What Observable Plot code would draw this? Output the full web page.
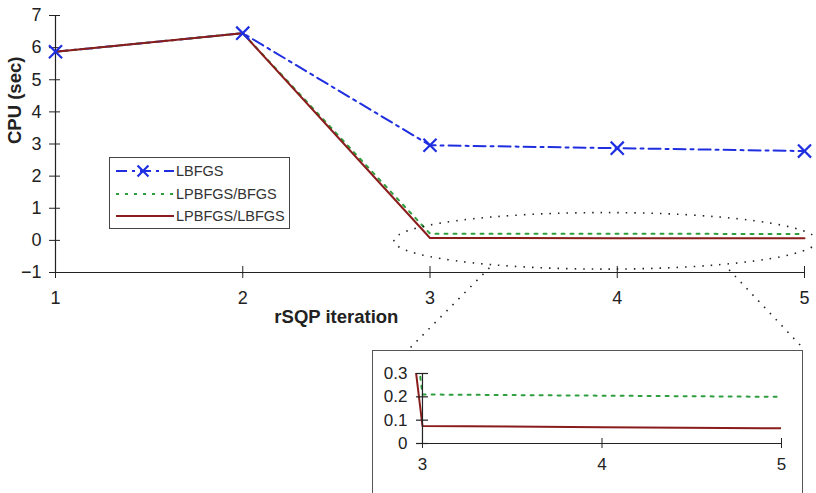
<!DOCTYPE html>
<html>
<head>
<meta charset="utf-8">
<script src="https://cdn.jsdelivr.net/npm/d3@7"></script>
<script src="https://cdn.jsdelivr.net/npm/@observablehq/plot@0.6"></script>
<style>
  html, body { margin: 0; padding: 0; background: #fff; }
  #wrap { position: relative; width: 816px; height: 493px; overflow: hidden; font-family: "Liberation Sans", Arial, sans-serif; }
  #main { position: absolute; left: 0; top: 0; }
  #inset { position: absolute; left: 372px; top: 350px; width: 429px; height: 170px; border: 1px solid #555; background: #fff; overflow: hidden; }
  #legend { position: absolute; left: 109px; top: 157px; width: 179px; height: 70px; border: 1px solid #444; background: #fff; font-size: 14.5px; color: #333; }
  #legend .row { position: absolute; left: 4px; height: 20px; display: flex; align-items: center; }
  #legend svg { display: block; }
  #overlay { position: absolute; left: 0; top: 0; pointer-events: none; }
</style>
</head>
<body>
<div id="wrap">
  <div id="main"></div>
  <div id="legend"></div>
  <div id="inset"></div>
  <svg id="overlay" width="816" height="493"></svg>
</div>
<script>
// ---- data ----
const iterations = [1, 2, 3, 4, 5];
const seriesNames = ["LBFGS", "LPBFGS/BFGS", "LPBFGS/LBFGS"];
const lbfgs = [5.87, 6.45, 2.96, 2.87, 2.78];
const lpbfgsBfgs = [5.87, 6.45, 0.21, 0.205, 0.2];
const lpbfgsLbfgs = [5.87, 6.45, 0.075, 0.07, 0.065];
const yTicks = [-1, 0, 1, 2, 3, 4, 5, 6, 7];
const xTicks = [1, 2, 3, 4, 5];
const insetYTicks = [0, 0.1, 0.2, 0.3];
const insetXTicks = [3, 4, 5];
const yLabel = "CPU (sec)";
const xLabel = "rSQP iteration";

const colors = { "LBFGS": "#1f2fe0", "LPBFGS/BFGS": "#2e9e3e", "LPBFGS/LBFGS": "#8b1c1c" };
const dashes = { "LBFGS": "12,5,3,5", "LPBFGS/BFGS": "3,6", "LPBFGS/LBFGS": null };

const rows = [];
seriesNames.forEach((s, k) => {
  const vals = [lbfgs, lpbfgsBfgs, lpbfgsLbfgs][k];
  iterations.forEach((x, i) => rows.push({ series: s, x, y: vals[i] }));
});
const bySeries = s => rows.filter(r => r.series === s);

const font = `"Liberation Sans", Arial, sans-serif`;

// ---- main plot ----
const main = Plot.plot({
  width: 816, height: 340,
  marginLeft: 55, marginRight: 12, marginTop: 15, marginBottom: 68,
  x: { domain: [1, 5], axis: null },
  y: { domain: [-1, 7], axis: null },
  style: { fontFamily: font, fontSize: "18px", color: "#222", background: "transparent", overflow: "visible" },
  marks: [
    Plot.ruleX([1], { y1: -1, y2: 7, stroke: "#222", strokeWidth: 1.2 }),
    Plot.ruleY([-1], { x1: 1, x2: 5, stroke: "#222", strokeWidth: 1.2 }),
    Plot.axisY({ ticks: yTicks, tickSize: 6, tickPadding: 8, tickFormat: "d", label: null, stroke: "#222", fill: "#222" }),
    Plot.axisY({ ticks: yTicks, tickSize: 5, text: null, label: null, dx: 5, stroke: "#222" }),
    Plot.axisX({ ticks: xTicks, tickSize: 6, tickPadding: 13, tickFormat: "d", label: null, stroke: "#222", fill: "#222" }),
    Plot.axisX({ ticks: xTicks, tickSize: 6, text: null, label: null, dy: -6, stroke: "#222" }),
    Plot.text([yLabel], { frameAnchor: "left", rotate: -90, dx: -40, fontWeight: "bold", fontSize: 18.5, fill: "#222" }),
    Plot.text([xLabel], { frameAnchor: "bottom", x: () => 2.5, dy: 50, fontWeight: "bold", fontSize: 18.5, fill: "#222" }),
    Plot.line(bySeries("LBFGS"), { x: "x", y: "y", stroke: colors["LBFGS"], strokeWidth: 2, strokeDasharray: dashes["LBFGS"] }),
    Plot.line(bySeries("LPBFGS/BFGS"), { x: "x", y: "y", stroke: colors["LPBFGS/BFGS"], strokeWidth: 2, strokeDasharray: dashes["LPBFGS/BFGS"] }),
    Plot.line(bySeries("LPBFGS/LBFGS"), { x: "x", y: "y", stroke: colors["LPBFGS/LBFGS"], strokeWidth: 2 }),
    Plot.dot(bySeries("LBFGS"), { x: "x", y: "y", symbol: "times", r: 6, stroke: colors["LBFGS"], strokeWidth: 2.2 })
  ]
});
document.getElementById("main").appendChild(main);

// ---- legend ----
const legend = d3.select("#legend");
seriesNames.forEach((s, i) => {
  const row = legend.append("div").attr("class", "row").style("top", (3 + i * 22.5) + "px");
  const svg = row.append("svg").attr("width", 62).attr("height", 20);
  svg.append("line").attr("x1", 2).attr("x2", 60).attr("y1", 10).attr("y2", 10)
    .attr("stroke", colors[s]).attr("stroke-width", 2)
    .attr("stroke-dasharray", s === "LBFGS" ? "11,5,3,5" : dashes[s]);
  if (s === "LBFGS") {
    svg.append("path").attr("d", d3.symbol(d3.symbolTimes, 80)()).attr("transform", "translate(29,10)")
      .attr("stroke", colors[s]).attr("stroke-width", 2.2).attr("fill", "none");
  }
  row.append("span").text(s);
});

// ---- inset ----
const inset = Plot.plot({
  width: 429, height: 143,
  marginLeft: 40, marginRight: 21, marginTop: 22, marginBottom: 51,
  x: { domain: [2.95, 5], axis: null },
  y: { domain: [0, 0.3], axis: null },
  style: { fontFamily: font, fontSize: "17px", color: "#222", background: "transparent", overflow: "visible" },
  marks: [
    Plot.line(bySeries("LPBFGS/BFGS"), { x: "x", y: "y", stroke: colors["LPBFGS/BFGS"], strokeWidth: 2, strokeDasharray: dashes["LPBFGS/BFGS"], clip: true }),
    Plot.line(bySeries("LPBFGS/LBFGS"), { x: "x", y: "y", stroke: colors["LPBFGS/LBFGS"], strokeWidth: 2, clip: true }),
    Plot.ruleX([3], { y1: 0, y2: 0.3, stroke: "#222", strokeWidth: 1.2 }),
    Plot.ruleY([0], { x1: 3, x2: 5, stroke: "#222", strokeWidth: 1.2 }),
    Plot.ruleY(insetYTicks, { y: d => d, x1: 3, x2: 3, insetLeft: -6, insetRight: -6, stroke: "#222", strokeWidth: 1.2 }),
    Plot.text(insetYTicks, { y: d => d, x: () => 3, text: d => d === 0 ? "0" : d.toFixed(1), textAnchor: "end", dx: -15, fill: "#222", fontSize: 17 }),
    Plot.axisX({ ticks: insetXTicks, tickSize: 5, tickPadding: 9, tickFormat: "d", label: null, stroke: "#222", fill: "#222" }),
    Plot.axisX({ ticks: insetXTicks, tickSize: 5, text: null, label: null, dy: -5, stroke: "#222" })
  ]
});
document.getElementById("inset").appendChild(inset);

// ---- zoom ellipse and connectors (placed through the main scales) ----
const sx = main.scale("x"), sy = main.scale("y");
const ov = d3.select("#overlay");
const ell = { x: 3.94, y: -0.03, rx: 1.13, ry: 0.88 };
const cx = sx.apply(ell.x), cy = sy.apply(ell.y);
const rx = sx.apply(ell.x + ell.rx) - cx, ry = sy.apply(ell.y - ell.ry) - cy;
ov.append("ellipse").attr("cx", cx).attr("cy", cy).attr("rx", rx).attr("ry", ry)
  .attr("fill", "none").attr("stroke", "#222").attr("stroke-width", 1.6).attr("stroke-dasharray", "1.5,7");
const box = document.getElementById("inset");
const bx0 = box.offsetLeft, bx1 = box.offsetLeft + box.offsetWidth, by0 = box.offsetTop;
const leftStart = [sx.apply(3.32), sy.apply(-0.87)];
const rightStart = [sx.apply(4.6), sy.apply(-0.93)];
ov.append("line").attr("x1", leftStart[0]).attr("y1", leftStart[1]).attr("x2", bx0 + 38).attr("y2", by0 - 2)
  .attr("stroke", "#222").attr("stroke-width", 1.6).attr("stroke-dasharray", "1.5,7");
ov.append("line").attr("x1", rightStart[0]).attr("y1", rightStart[1]).attr("x2", bx1 - 2).attr("y2", by0 - 4)
  .attr("stroke", "#222").attr("stroke-width", 1.6).attr("stroke-dasharray", "1.5,7");
</script>
</body>
</html>
